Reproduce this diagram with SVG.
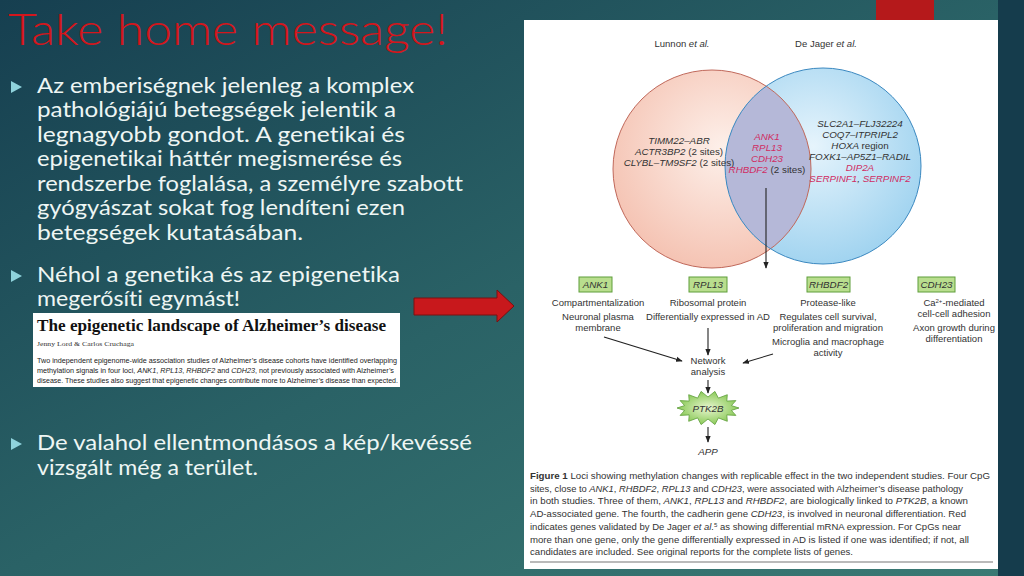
<svg xmlns="http://www.w3.org/2000/svg" width="1024" height="576" viewBox="0 0 1024 576">
<defs>
<linearGradient id="bg" x1="0" y1="0" x2="1" y2="1">
<stop offset="0" stop-color="#163f50"/>
<stop offset="0.5" stop-color="#2a6266"/>
<stop offset="1" stop-color="#3a7a74"/>
</linearGradient>
<radialGradient id="lc" cx="0.55" cy="0.4" r="0.6">
<stop offset="0" stop-color="#fdf0ea"/>
<stop offset="1" stop-color="#f5c4b4"/>
</radialGradient>
<radialGradient id="rc" cx="0.45" cy="0.4" r="0.6">
<stop offset="0" stop-color="#e6f4fc"/>
<stop offset="1" stop-color="#a2d4f0"/>
</radialGradient>
<radialGradient id="star" cx="0.5" cy="0.5" r="0.5">
<stop offset="0" stop-color="#e8f6d0"/>
<stop offset="1" stop-color="#8cca5a"/>
</radialGradient>
<clipPath id="clipL"><circle cx="712" cy="169" r="99"/></clipPath>
<marker id="ah" viewBox="0 0 10 10" refX="9" refY="5" markerWidth="6" markerHeight="6" orient="auto">
<path d="M0,1 L10,5 L0,9 Z" fill="#222"/>
</marker>
<style>
.bul{font-family:Lato,"Liberation Sans",Arial,sans-serif;font-size:21px;fill:#eef6f4;font-variant-ligatures:none}
.tri{fill:#8fd3dc}
.fig{font-family:"Liberation Sans",Arial,sans-serif;font-size:9.5px;fill:#333;text-anchor:middle}
.gene{font-family:"Liberation Sans",Arial,sans-serif;font-size:9.8px;fill:#333;text-anchor:middle;font-style:italic}
.red{fill:#d02d62}
.box{fill:#b9de8e;stroke:#5f9e3a;stroke-width:1}
.cap{font-family:"Liberation Sans",Arial,sans-serif;font-size:9.4px;fill:#333}
.conn{stroke:#222;stroke-width:1.1;fill:none;marker-end:url(#ah)}
</style>
</defs>
<rect width="1024" height="576" fill="url(#bg)"/>
<rect x="998" y="0" width="26" height="576" fill="#153c4c"/>
<rect x="876" y="0" width="58" height="21" fill="#b5191b"/>

<text x="8" y="45" font-family="Lato, Liberation Sans, Arial, sans-serif" font-weight="300" font-size="44" fill="#d4161c" textLength="440" lengthAdjust="spacingAndGlyphs">Take home message!</text>

<g id="bullets">
<polygon class="tri" points="11,81 22,87 11,93"/>
<text class="bul" x="37" y="93" textLength="377" lengthAdjust="spacingAndGlyphs">Az emberiségnek jelenleg a komplex</text>
<text class="bul" x="37" y="117" textLength="359" lengthAdjust="spacingAndGlyphs">pathológiájú betegségek jelentik a</text>
<text class="bul" x="37" y="142" textLength="368" lengthAdjust="spacingAndGlyphs">legnagyobb gondot. A genetikai és</text>
<text class="bul" x="37" y="166" textLength="365" lengthAdjust="spacingAndGlyphs">epigenetikai háttér megismerése és</text>
<text class="bul" x="37" y="191" textLength="426" lengthAdjust="spacingAndGlyphs">rendszerbe foglalása, a személyre szabott</text>
<text class="bul" x="37" y="215" textLength="368" lengthAdjust="spacingAndGlyphs">gyógyászat sokat fog lendíteni ezen</text>
<text class="bul" x="37" y="240" textLength="266" lengthAdjust="spacingAndGlyphs">betegségek kutatásában.</text>
<polygon class="tri" points="11,270 22,276 11,282"/>
<text class="bul" x="37" y="282" textLength="363" lengthAdjust="spacingAndGlyphs">Néhol a genetika és az epigenetika</text>
<text class="bul" x="37" y="306" textLength="203" lengthAdjust="spacingAndGlyphs">megerősíti egymást!</text>
<polygon class="tri" points="11,438 22,444 11,450"/>
<text class="bul" x="37" y="450" textLength="435" lengthAdjust="spacingAndGlyphs">De valahol ellentmondásos a kép/kevéssé</text>
<text class="bul" x="37" y="475" textLength="221" lengthAdjust="spacingAndGlyphs">vizsgált még a terület.</text>
</g>

<g id="paper">
<rect x="33" y="313" width="367" height="74" fill="#ffffff"/>
<text x="37" y="331" font-family="Liberation Serif, Times New Roman, serif" font-weight="bold" font-size="16.5" fill="#111" textLength="349" lengthAdjust="spacingAndGlyphs">The epigenetic landscape of Alzheimer’s disease</text>
<text x="37" y="346" font-family="Liberation Serif, serif" font-size="7" fill="#333" textLength="97" lengthAdjust="spacingAndGlyphs">Jenny Lord &amp; Carlos Cruchaga</text>
<g font-family="Liberation Sans, Arial, sans-serif" font-size="6.6" fill="#222">
<text x="37" y="363" textLength="360" lengthAdjust="spacingAndGlyphs">Two independent epigenome-wide association studies of Alzheimer’s disease cohorts have identified overlapping</text>
<text x="37" y="373" textLength="357" lengthAdjust="spacingAndGlyphs">methylation signals in four loci, <tspan font-style="italic">ANK1</tspan>, <tspan font-style="italic">RPL13</tspan>, <tspan font-style="italic">RHBDF2</tspan> and <tspan font-style="italic">CDH23</tspan>, not previously associated with Alzheimer’s</text>
<text x="37" y="383" textLength="361" lengthAdjust="spacingAndGlyphs">disease. These studies also suggest that epigenetic changes contribute more to Alzheimer’s disease than expected.</text>
</g>
</g>

<g id="redarrow">
<polygon points="414,298 497,298 497,290 514,306 497,322 497,315 414,315" fill="#c8181c" stroke="#7a1010" stroke-width="1"/>
</g>

<g id="figure">
<rect x="524" y="20" width="474" height="549" fill="#ffffff"/>
<text class="fig" x="682" y="47">Lunnon <tspan font-style="italic">et al.</tspan></text>
<text class="fig" x="826" y="47">De Jager <tspan font-style="italic">et al.</tspan></text>

<g id="venn">
<circle cx="712" cy="169" r="99" fill="url(#lc)"/>
<circle cx="823" cy="166" r="98" fill="url(#rc)"/>
<circle cx="823" cy="166" r="98" fill="#b5b8d8" clip-path="url(#clipL)"/>
<circle cx="712" cy="169" r="99" fill="none" stroke="#c0685a" stroke-width="1"/>
<circle cx="823" cy="166" r="98" fill="none" stroke="#3a88c0" stroke-width="1"/>
</g>

<g id="left-genes">
<text class="gene" x="679" y="144">TIMM22–ABR</text>
<text class="gene" x="679" y="155">ACTR3BP2 <tspan font-style="normal">(2 sites)</tspan></text>
<text class="gene" x="679" y="166">CLYBL–TM9SF2 <tspan font-style="normal">(2 sites)</tspan></text>
</g>
<g id="mid-genes">
<text class="gene red" x="767" y="140">ANK1</text>
<text class="gene red" x="767" y="151">RPL13</text>
<text class="gene red" x="767" y="162">CDH23</text>
<text class="gene" x="767" y="173"><tspan class="red">RHBDF2</tspan> <tspan font-style="normal">(2 sites)</tspan></text>
</g>
<g id="right-genes">
<text class="gene" x="860" y="127">SLC2A1–FLJ32224</text>
<text class="gene" x="860" y="138">COQ7–ITPRIPL2</text>
<text class="gene" x="860" y="149">HOXA <tspan font-style="normal">region</tspan></text>
<text class="gene" x="860" y="160">FOXK1–AP5Z1–RADIL</text>
<text class="gene red" x="860" y="171">DIP2A</text>
<text class="gene red" x="860" y="182">SERPINF1<tspan fill="#333">, </tspan>SERPINF2</text>
</g>

<g id="connectors">
<line class="conn" x1="766" y1="188" x2="766" y2="268"/>
<line class="conn" x1="604" y1="337" x2="682" y2="361"/>
<line class="conn" x1="708" y1="328" x2="708" y2="355"/>
<line class="conn" x1="773" y1="354" x2="743" y2="363"/>
<line class="conn" x1="708" y1="380" x2="708" y2="393"/>
<line class="conn" x1="708" y1="427" x2="708" y2="442"/>
</g>

<g id="node-ank1">
<rect class="box" x="579" y="277" width="33" height="15"/>
<text class="gene" x="595.5" y="288">ANK1</text>
<text class="fig" x="598" y="306">Compartmentalization</text>
<text class="fig" x="598" y="320">Neuronal plasma</text>
<text class="fig" x="598" y="331">membrane</text>
</g>
<g id="node-rpl13">
<rect class="box" x="689" y="277" width="38" height="15"/>
<text class="gene" x="708" y="288">RPL13</text>
<text class="fig" x="708" y="306">Ribosomal protein</text>
<text class="fig" x="708" y="320">Differentially expressed in AD</text>
</g>
<g id="node-rhbdf2">
<rect class="box" x="807" y="277" width="43" height="15"/>
<text class="gene" x="828.5" y="288">RHBDF2</text>
<text class="fig" x="828" y="306">Protease-like</text>
<text class="fig" x="828" y="320">Regulates cell survival,</text>
<text class="fig" x="828" y="331">proliferation and migration</text>
<text class="fig" x="828" y="345">Microglia and macrophage</text>
<text class="fig" x="828" y="356">activity</text>
</g>
<g id="node-cdh23">
<rect class="box" x="918" y="277" width="37" height="15"/>
<text class="gene" x="936.5" y="288">CDH23</text>
<text class="fig" x="954" y="306">Ca<tspan font-size="6" dy="-3">2+</tspan><tspan dy="3">-mediated</tspan></text>
<text class="fig" x="954" y="317">cell-cell adhesion</text>
<text class="fig" x="954" y="331">Axon growth during</text>
<text class="fig" x="954" y="342">differentiation</text>
</g>
<g id="node-network">
<text class="fig" x="708" y="364">Network</text>
<text class="fig" x="708" y="375">analysis</text>
</g>
<g id="node-ptk2b">
<polygon points="739,408 731.4,410.4 735.9,415.4 726.8,414.9 727.3,421.3 718.4,417.9 714.9,424.6 708,419 701.1,424.6 697.6,417.9 688.7,421.3 689.2,414.9 680.1,415.4 684.6,410.4 677,408 684.6,405.6 680.1,400.6 689.2,401.1 688.7,394.7 697.6,398.1 701.1,391.4 708,397 714.9,391.4 718.4,398.1 727.3,394.7 726.8,401.1 735.9,400.6 731.4,405.6" fill="url(#star)" stroke="#5e9e3a" stroke-width="0.8"/>
<text class="gene" x="708" y="411.5">PTK2B</text>
</g>
<g id="node-app">
<text class="gene" x="708" y="455">APP</text>
</g>

<g id="caption">
<text class="cap" x="530" y="479" textLength="460" lengthAdjust="spacingAndGlyphs"><tspan font-weight="bold">Figure 1</tspan>  Loci showing methylation changes with replicable effect in the two independent studies. Four CpG</text>
<text class="cap" x="530" y="491.7" textLength="433" lengthAdjust="spacingAndGlyphs">sites, close to <tspan font-style="italic">ANK1</tspan>, <tspan font-style="italic">RHBDF2</tspan>, <tspan font-style="italic">RPL13</tspan> and <tspan font-style="italic">CDH23</tspan>, were associated with Alzheimer’s disease pathology</text>
<text class="cap" x="530" y="504.4" textLength="438" lengthAdjust="spacingAndGlyphs">in both studies. Three of them, <tspan font-style="italic">ANK1</tspan>, <tspan font-style="italic">RPL13</tspan> and <tspan font-style="italic">RHBDF2</tspan>, are biologically linked to <tspan font-style="italic">PTK2B</tspan>, a known</text>
<text class="cap" x="530" y="517.1" textLength="436" lengthAdjust="spacingAndGlyphs">AD-associated gene. The fourth, the cadherin gene <tspan font-style="italic">CDH23</tspan>, is involved in neuronal differentiation. Red</text>
<text class="cap" x="530" y="529.8" textLength="431" lengthAdjust="spacingAndGlyphs">indicates genes validated by De Jager <tspan font-style="italic">et al.</tspan><tspan font-size="6" dy="-2.5">5</tspan><tspan dy="2.5"> as showing differential mRNA expression. For CpGs near</tspan></text>
<text class="cap" x="530" y="542.5" textLength="439" lengthAdjust="spacingAndGlyphs">more than one gene, only the gene differentially expressed in AD is listed if one was identified; if not, all</text>
<text class="cap" x="530" y="555.2" textLength="323" lengthAdjust="spacingAndGlyphs">candidates are included. See original reports for the complete lists of genes.</text>
<line x1="530" y1="562" x2="993" y2="562" stroke="#777" stroke-width="1.2"/>
</g>
</g>
</svg>
